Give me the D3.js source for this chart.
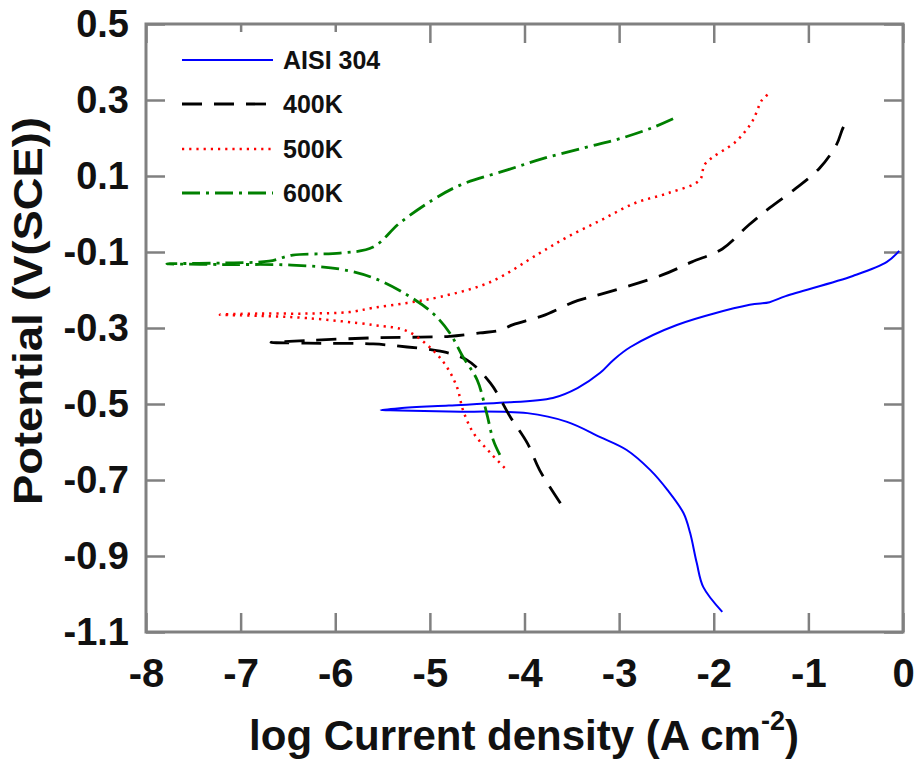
<!DOCTYPE html>
<html>
<head>
<meta charset="utf-8">
<script src="https://cdn.jsdelivr.net/npm/d3@7"></script>
<style>
  html, body { margin: 0; padding: 0; background: #fff; }
  svg { display: block; font-family: "Liberation Sans", Arial, sans-serif; font-weight: bold; }
</style>
</head>
<body>
<svg id="chart" width="914" height="760"></svg>
<script>
// ---- Data ----
const xTicks = [-8, -7, -6, -5, -4, -3, -2, -1, 0];
const xTickLabels = ["-8", "-7", "-6", "-5", "-4", "-3", "-2", "-1", "0"];
const yTicks = [0.5, 0.3, 0.1, -0.1, -0.3, -0.5, -0.7, -0.9, -1.1];
const yTickLabels = ["0.5", "0.3", "0.1", "-0.1", "-0.3", "-0.5", "-0.7", "-0.9", "-1.1"];

const seriesNames = ["AISI 304", "400K", "500K", "600K"];
const seriesColors = ["#0000ff", "#000000", "#ff0000", "#008000"];

// Each sweep: from cathodic end, through corrosion potential, to anodic end
const aisiLogI = [-1.91, -2.11, -2.18, -2.25, -2.32, -2.49, -2.67, -2.92, -3.20, -3.55, -3.97, -4.80, -5.32, -5.52,
                  -5.32, -4.80, -4.26, -3.70, -3.44, -3.20, -3.06, -2.88, -2.39, -1.62, -1.41, -1.24, -0.53, -0.17, -0.04];
const aisiE    = [-1.047, -0.982, -0.918, -0.839, -0.787, -0.726, -0.674, -0.621, -0.587, -0.547, -0.524, -0.520, -0.517, -0.516,
                  -0.511, -0.504, -0.497, -0.484, -0.458, -0.418, -0.384, -0.350, -0.292, -0.239, -0.232, -0.216, -0.163, -0.126, -0.097];

const k400LogI = [-3.62, -3.84, -3.97, -4.15, -4.36, -4.61, -4.89, -5.24, -5.60, -6.30, -6.68,
                  -6.30, -5.60, -5.10, -4.79, -4.47, -4.26, -4.12, -3.81, -3.44, -3.19, -2.55, -2.23, -1.91, -1.63, -1.41, -1.13, -0.88, -0.70, -0.63, -0.56];
const k400E    = [-0.761, -0.674, -0.603, -0.534, -0.445, -0.384, -0.361, -0.350, -0.342, -0.340, -0.338,
                  -0.333, -0.326, -0.324, -0.322, -0.313, -0.306, -0.291, -0.268, -0.228, -0.211, -0.161, -0.126, -0.092, -0.029, 0.016, 0.068, 0.121, 0.184, 0.229, 0.255];

const k500LogI = [-4.21, -4.36, -4.54, -4.65, -4.71, -4.82, -4.97, -5.24, -5.60, -6.30, -6.80, -7.22,
                  -6.80, -6.30, -5.85, -5.60, -5.24, -4.89, -4.36, -3.84, -3.55, -3.19, -2.83, -2.48, -2.15, -2.09, -1.76, -1.59, -1.49, -1.41];
const k500E    = [-0.668, -0.629, -0.576, -0.516, -0.458, -0.403, -0.358, -0.308, -0.292, -0.274, -0.268, -0.265,
                  -0.262, -0.262, -0.258, -0.247, -0.234, -0.218, -0.179, -0.103, -0.061, -0.016, 0.029, 0.055, 0.089, 0.132, 0.192, 0.245, 0.300, 0.318];

const k600LogI = [-4.26, -4.33, -4.40, -4.50, -4.65, -4.79, -4.97, -5.24, -5.60, -5.95, -6.51, -7.20, -7.78,
                  -7.20, -6.70, -6.45, -5.95, -5.60, -5.32, -4.97, -4.68, -4.18, -3.79, -3.37, -3.01, -2.66, -2.41];
const k600E    = [-0.634, -0.595, -0.524, -0.437, -0.376, -0.313, -0.261, -0.213, -0.168, -0.145, -0.134, -0.133, -0.131,
                  -0.129, -0.124, -0.108, -0.103, -0.087, -0.024, 0.037, 0.076, 0.116, 0.147, 0.174, 0.197, 0.226, 0.253];

// ---- Layout ----
const svg = d3.select("#chart");
const X0 = 146, X1 = 903, Y0 = 24, Y1 = 632;
const x = d3.scaleLinear().domain([-8, 0]).range([X0, X1]);
const y = d3.scaleLinear().domain([-1.1, 0.5]).range([Y1, Y0]);
const axisColor = "#808080";
const textColor = "#111";
const tickLen = 19;

const series = [
  { name: seriesNames[0], color: seriesColors[0], logI: aisiLogI, E: aisiE, width: 2, dash: null },
  { name: seriesNames[1], color: seriesColors[1], logI: k400LogI, E: k400E, width: 2.8, dash: "20,12" },
  { name: seriesNames[2], color: seriesColors[2], logI: k500LogI, E: k500E, width: 2.5, dash: "2.2,5" },
  { name: seriesNames[3], color: seriesColors[3], logI: k600LogI, E: k600E, width: 2.8, dash: "18,6,3,6" }
];

// ---- Axes (ticks inward on all sides) ----
function styleAxis(g) {
  g.select(".domain").remove();
  g.selectAll(".tick line").attr("stroke", axisColor).attr("stroke-width", 2.5);
  g.selectAll(".tick text").attr("fill", textColor)
    .style("font-family", '"Liberation Sans", Arial, sans-serif').style("font-weight", "bold");
}

const bottomAxis = d3.axisBottom(x).tickValues(xTicks)
  .tickFormat((d, i) => xTickLabels[i]).tickSizeInner(-tickLen).tickSizeOuter(0).tickPadding(26.5);
svg.append("g").attr("transform", `translate(0,${Y1})`).call(bottomAxis)
  .call(styleAxis).call(g => g.selectAll(".tick text").style("font-size", "40px"));

const leftAxis = d3.axisLeft(y).tickValues(yTicks)
  .tickFormat((d, i) => yTickLabels[i]).tickSizeInner(-tickLen).tickSizeOuter(0).tickPadding(17);
svg.append("g").attr("transform", `translate(${X0},0)`).call(leftAxis)
  .call(styleAxis).call(g => g.selectAll(".tick text").style("font-size", "38px"));

svg.append("g").attr("transform", `translate(0,${Y0})`)
  .call(d3.axisTop(x).tickValues(xTicks).tickFormat("").tickSizeInner(-tickLen).tickSizeOuter(0))
  .call(styleAxis);
svg.append("g").attr("transform", `translate(${X1},0)`)
  .call(d3.axisRight(y).tickValues(yTicks).tickFormat("").tickSizeInner(-tickLen).tickSizeOuter(0))
  .call(styleAxis);

// ---- Legend background (hides top ticks under it) ----
svg.append("rect").attr("x", 168).attr("y", 32).attr("width", 236).attr("height", 180).attr("fill", "#fff");

// ---- Curves ----
const line = d3.line()
  .x(d => x(d[0])).y(d => y(d[1]))
  .curve(d3.curveCatmullRom.alpha(0.5));

series.forEach(s => {
  const pts = s.logI.map((v, i) => [v, s.E[i]]);
  svg.append("path").datum(pts)
    .attr("d", line)
    .attr("fill", "none")
    .attr("stroke", s.color)
    .attr("stroke-width", s.width)
    .attr("stroke-dasharray", s.dash)
    .attr("stroke-linejoin", "round");
});

// ---- Frame ----
svg.append("rect").attr("x", X0).attr("y", Y0).attr("width", X1 - X0).attr("height", Y1 - Y0)
  .attr("fill", "none").attr("stroke", axisColor).attr("stroke-width", 3);

// ---- Legend ----
const legendRowY = [60, 104, 149, 193];
const legend = svg.append("g");
series.forEach((s, i) => {
  legend.append("line")
    .attr("x1", 182).attr("x2", 273).attr("y1", legendRowY[i]).attr("y2", legendRowY[i])
    .attr("stroke", s.color).attr("stroke-width", s.width)
    .attr("stroke-dasharray", s.dash);
  legend.append("text")
    .attr("x", 283).attr("y", legendRowY[i] + 9)
    .attr("fill", textColor).style("font-size", "25px")
    .text(s.name);
});

// ---- Axis titles ----
const xt = svg.append("text").attr("x", 524).attr("y", 750)
  .attr("text-anchor", "middle").attr("fill", textColor).style("font-size", "42px");
xt.append("tspan").text("log Current density (A cm");
xt.append("tspan").attr("dy", -20).style("font-size", "27px").text("-2");
xt.append("tspan").attr("dy", 20).text(")");

svg.append("text")
  .attr("transform", "translate(42,311) rotate(-90)")
  .attr("text-anchor", "middle").attr("fill", textColor)
  .style("font-size", "41px")
  .attr("textLength", 388).attr("lengthAdjust", "spacingAndGlyphs")
  .text("Potential (V(SCE))");
</script>
</body>
</html>
